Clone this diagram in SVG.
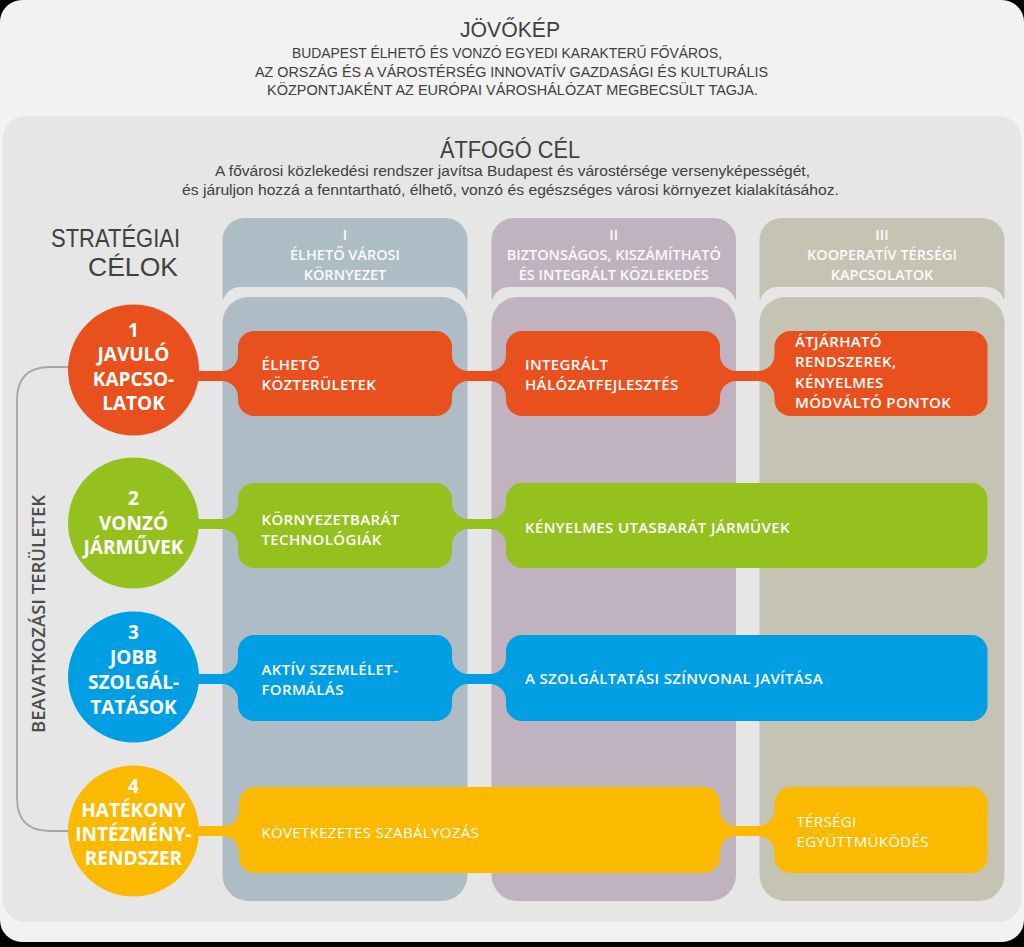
<svg xmlns="http://www.w3.org/2000/svg" width="1024" height="947" viewBox="0 0 1024 947">
<style>
.cond{font-family:"Liberation Sans Narrow","Liberation Sans",Arial,sans-serif;fill:#404040;text-anchor:middle}
.hdr{font-family:"Open Sans","Noto Sans",sans-serif;font-weight:600;font-size:14.5px;fill:#fafafa;text-anchor:middle}
.circ{font-family:"Open Sans","Noto Sans",sans-serif;font-weight:700;font-size:19px;fill:#fff;text-anchor:middle}
.box{font-family:"Open Sans","Noto Sans",sans-serif;font-weight:600;font-size:15px;fill:#fff;letter-spacing:0.35px}
.light{font-weight:400}
.gap{fill:#e6e6e6}
.c1{fill:#aebcc6}.c2{fill:#c1b2bf}.c3{fill:#c5c3b4}
.or{fill:#e8501e}.gr{fill:#95c11f}.bl{fill:#009fe3}.ye{fill:#fbba00}
</style>
<rect x="0" y="0" width="1024" height="947" fill="#000"/>
<rect x="0" y="0" width="1024" height="942" rx="22" fill="#f2f2f2"/>
<g id="vision">
<text class="cond" x="510" y="37" font-size="22" textLength="100" lengthAdjust="spacingAndGlyphs">JÖVŐKÉP</text>
<text class="cond" x="507" y="58" font-size="15.5" textLength="430" lengthAdjust="spacingAndGlyphs">BUDAPEST ÉLHETŐ ÉS VONZÓ EGYEDI KARAKTERŰ FŐVÁROS,</text>
<text class="cond" x="511.5" y="77" font-size="15.5" textLength="513" lengthAdjust="spacingAndGlyphs">AZ ORSZÁG ÉS A VÁROSTÉRSÉG INNOVATÍV GAZDASÁGI ÉS KULTURÁLIS</text>
<text class="cond" x="512.5" y="95" font-size="15.5" textLength="491" lengthAdjust="spacingAndGlyphs">KÖZPONTJAKÉNT AZ EURÓPAI VÁROSHÁLÓZAT MEGBECSÜLT TAGJA.</text>
</g>
<rect x="3" y="116" width="1018" height="806" rx="22" fill="#e6e6e6"/>
<g id="goal">
<text class="cond" x="510" y="158" font-size="23" textLength="140" lengthAdjust="spacingAndGlyphs">ÁTFOGÓ CÉL</text>
<text class="cond" x="512.5" y="176" font-size="15.5" textLength="595" lengthAdjust="spacingAndGlyphs">A fővárosi közlekedési rendszer javítsa Budapest és várostérsége versenyképességét,</text>
<text class="cond" x="510.5" y="195" font-size="15.5" textLength="657" lengthAdjust="spacingAndGlyphs">és járuljon hozzá a fenntartható, élhető, vonzó és egészséges városi környezet kialakításához.</text>
</g>
<g id="strategic-title">
<text class="cond" x="180" y="247" font-size="25" style="text-anchor:end" textLength="129" lengthAdjust="spacingAndGlyphs">STRATÉGIAI</text>
<text class="cond" x="178" y="276" font-size="25" style="text-anchor:end" textLength="90" lengthAdjust="spacingAndGlyphs">CÉLOK</text>
</g>
<g id="col-1">
<rect class="c1" x="222.5" y="218" width="245" height="100" rx="22"/>
<rect class="gap" x="222.5" y="287" width="245" height="614" rx="18"/>
<rect class="c1" x="222.5" y="297" width="245" height="604" rx="26"/>
<text class="hdr" x="345" y="240">I</text>
<text class="hdr" x="345" y="260">ÉLHETŐ VÁROSI</text>
<text class="hdr" x="345" y="279.5">KÖRNYEZET</text>
</g>
<g id="col-2">
<rect class="c2" x="491.5" y="218" width="244.5" height="100" rx="22"/>
<rect class="gap" x="491.5" y="287" width="244.5" height="614" rx="18"/>
<rect class="c2" x="491.5" y="297" width="244.5" height="604" rx="26"/>
<text class="hdr" x="613.75" y="240">II</text>
<text class="hdr" x="613.75" y="260">BIZTONSÁGOS, KISZÁMÍTHATÓ</text>
<text class="hdr" x="613.75" y="279.5">ÉS INTEGRÁLT KÖZLEKEDÉS</text>
</g>
<g id="col-3">
<rect class="c3" x="759.5" y="218" width="245" height="100" rx="22"/>
<rect class="gap" x="759.5" y="287" width="245" height="614" rx="18"/>
<rect class="c3" x="759.5" y="297" width="245" height="604" rx="26"/>
<text class="hdr" x="882" y="240">III</text>
<text class="hdr" x="882" y="260">KOOPERATÍV TÉRSÉGI</text>
<text class="hdr" x="882" y="279.5">KAPCSOLATOK</text>
</g>
<g id="bracket">
<path d="M70,367 L50,367 Q17,367 17,400 L17,798 Q17,831 50,831 L70,831" fill="none" stroke="#a6a6a6" stroke-width="1.8"/>
<text transform="translate(45,614) rotate(-90)" x="0" y="0" font-family="'Open Sans','Noto Sans',sans-serif" font-weight="600" font-size="18.5" fill="#4d4d4d" text-anchor="middle">BEAVATKOZÁSI TERÜLETEK</text>
</g>
<g id="connectors">
<path class="or" d="M180,371 L222,371 A16,16 0 0 0 238,355 L240,355 L240,397 L238,397 A16,16 0 0 0 222,381 L180,381 Z"/>
<path class="or" d="M450,355 L452,355 A16,16 0 0 0 468,371 L490,371 A16,16 0 0 0 506,355 L508,355 L508,397 L506,397 A16,16 0 0 0 490,381 L468,381 A16,16 0 0 0 452,397 L450,397 Z"/>
<path class="or" d="M718,355 L720,355 A16,16 0 0 0 736,371 L758.5,371 A16,16 0 0 0 774.5,355 L776.5,355 L776.5,397 L774.5,397 A16,16 0 0 0 758.5,381 L736,381 A16,16 0 0 0 720,397 L718,397 Z"/>
<path class="gr" d="M180,519 L222,519 A16,16 0 0 0 238,503 L240,503 L240,545 L238,545 A16,16 0 0 0 222,529 L180,529 Z"/>
<path class="gr" d="M450,503 L452,503 A16,16 0 0 0 468,519 L490,519 A16,16 0 0 0 506,503 L508,503 L508,545 L506,545 A16,16 0 0 0 490,529 L468,529 A16,16 0 0 0 452,545 L450,545 Z"/>
<path class="bl" d="M180,674 L222,674 A16,16 0 0 0 238,658 L240,658 L240,700 L238,700 A16,16 0 0 0 222,684 L180,684 Z"/>
<path class="bl" d="M450,658 L452,658 A16,16 0 0 0 468,674 L490,674 A16,16 0 0 0 506,658 L508,658 L508,700 L506,700 A16,16 0 0 0 490,684 L468,684 A16,16 0 0 0 452,700 L450,700 Z"/>
<path class="ye" d="M180,826 L223,826 A16,16 0 0 0 239,810 L241,810 L241,852 L239,852 A16,16 0 0 0 223,836 L180,836 Z"/>
<path class="ye" d="M718,810 L720,810 A16,16 0 0 0 736,826 L758.5,826 A16,16 0 0 0 774.5,810 L776.5,810 L776.5,852 L774.5,852 A16,16 0 0 0 758.5,836 L736,836 A16,16 0 0 0 720,852 L718,852 Z"/>
</g>
<g id="goal-1">
<circle class="or" cx="133.5" cy="370" r="65.5"/>
<text class="circ" x="133.5" y="337">1</text>
<text class="circ" x="133.5" y="361">JAVULÓ</text>
<text class="circ" x="133.5" y="386">KAPCSO-</text>
<text class="circ" x="133.5" y="410">LATOK</text>
</g>
<g id="goal-2">
<circle class="gr" cx="133.5" cy="523" r="65.5"/>
<text class="circ" x="133.5" y="505">2</text>
<text class="circ" x="133.5" y="529.5">VONZÓ</text>
<text class="circ" x="133.5" y="554">JÁRMŰVEK</text>
</g>
<g id="goal-3">
<circle class="bl" cx="133.5" cy="677" r="65.5"/>
<text class="circ" x="133.5" y="639">3</text>
<text class="circ" x="133.5" y="664">JOBB</text>
<text class="circ" x="133.5" y="689">SZOLGÁL-</text>
<text class="circ" x="133.5" y="714">TATÁSOK</text>
</g>
<g id="goal-4">
<circle class="ye" cx="133.5" cy="831" r="65.5"/>
<text class="circ" x="133.5" y="793">4</text>
<text class="circ" x="133.5" y="817">HATÉKONY</text>
<text class="circ" x="133.5" y="841">INTÉZMÉNY-</text>
<text class="circ" x="133.5" y="865">RENDSZER</text>
</g>
<g id="box-1a">
<rect class="or" x="238" y="331" width="214" height="85" rx="16"/>
<text class="box" x="261.5" y="369.5">ÉLHETŐ</text>
<text class="box" x="261.5" y="390">KÖZTERÜLETEK</text>
</g>
<g id="box-1b">
<rect class="or" x="506" y="331" width="214" height="85" rx="16"/>
<text class="box" x="525" y="369.5">INTEGRÁLT</text>
<text class="box" x="525" y="390">HÁLÓZATFEJLESZTÉS</text>
</g>
<g id="box-1c">
<rect class="or" x="774.5" y="331" width="213" height="85" rx="16"/>
<text class="box" x="795" y="346.5">ÁTJÁRHATÓ</text>
<text class="box" x="795" y="367">RENDSZEREK,</text>
<text class="box" x="795" y="387.5">KÉNYELMES</text>
<text class="box" x="795" y="408">MÓDVÁLTÓ PONTOK</text>
</g>
<g id="box-2a">
<rect class="gr" x="238" y="483" width="214" height="85" rx="16"/>
<text class="box" x="261.5" y="524.5">KÖRNYEZETBARÁT</text>
<text class="box" x="261.5" y="545">TECHNOLÓGIÁK</text>
</g>
<g id="box-2b">
<rect class="gr" x="506" y="483" width="481.5" height="85" rx="16"/>
<text class="box" x="525" y="533">KÉNYELMES UTASBARÁT JÁRMÜVEK</text>
</g>
<g id="box-3a">
<rect class="bl" x="238" y="635" width="214" height="86" rx="16"/>
<text class="box" x="261.5" y="674.5">AKTÍV SZEMLÉLET-</text>
<text class="box" x="261.5" y="695">FORMÁLÁS</text>
</g>
<g id="box-3b">
<rect class="bl" x="506" y="635" width="481.5" height="86" rx="16"/>
<text class="box" x="525" y="684">A SZOLGÁLTATÁSI SZÍNVONAL JAVÍTÁSA</text>
</g>
<g id="box-4a">
<rect class="ye" x="239" y="787" width="481" height="86" rx="16"/>
<text class="box light" x="261.5" y="838">KÖVETKEZETES SZABÁLYOZÁS</text>
</g>
<g id="box-4b">
<rect class="ye" x="774.5" y="787" width="213" height="86" rx="16"/>
<text class="box light" x="796.5" y="826.5">TÉRSÉGI</text>
<text class="box light" x="796.5" y="847">EGYÜTTMÜKÖDÉS</text>
</g>
</svg>
